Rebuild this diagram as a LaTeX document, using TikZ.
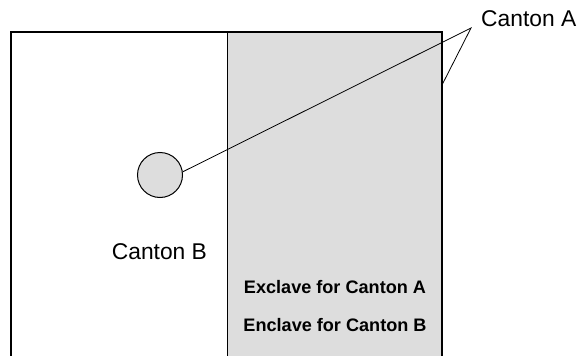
\documentclass[tikz,border=0pt]{standalone}
\usepackage{fontspec}
\setmainfont{Liberation Sans}
\definecolor{areagray}{RGB}{221,221,221}
\begin{document}
\begin{tikzpicture}[x=1pt,y=-1pt,
  border/.style={draw=black,line width=1.3pt},
  region/.style={draw=black,line width=1pt,fill=areagray},
  leader/.style={draw=black,line width=0.8pt},
  lbl/.style={inner sep=0pt,anchor=base west,font=\fontsize{22.8}{27}\selectfont},
  blbl/.style={inner sep=0pt,anchor=base,font=\fontsize{18.1}{22}\selectfont\bfseries}]
\useasboundingbox (0,0) rectangle (579,356);
\clip (0,0) rectangle (579,356);
\draw[border] (11,32) rectangle (442,370);
\draw[region] (227,32) rectangle (442,370);
\draw[border] (11,370) -- (11,32) -- (442,32) -- (442,370);
\node[circle,draw=black,line width=1pt,fill=areagray,minimum size=45pt,inner sep=0pt] (circ) at (160,175) {};
\coordinate (apex) at (471,28);
\coordinate (edge) at (442,85);
\node[lbl] (ca) at (481,26.7) {Canton A};
\node[lbl] (cb) at (111.7,259.3) {Canton B};
\node[blbl] (ex) at (335,293.8) {Exclave for Canton A};
\node[blbl] (en) at (335,331.5) {Enclave for Canton B};
\draw[leader] (circ.8) -- (apex) -- (edge);
\end{tikzpicture}
\end{document}
